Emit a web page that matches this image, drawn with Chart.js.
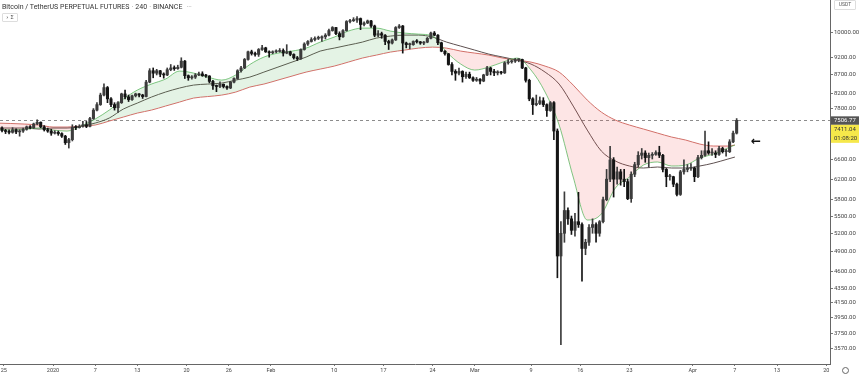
<!DOCTYPE html>
<html>
<head>
<meta charset="utf-8">
<script src="https://cdn.jsdelivr.net/npm/chart.js@4.4.1/dist/chart.umd.min.js"></script>
<style>
  html, body { margin: 0; padding: 0; background: #fff; }
  #wrap { position: relative; width: 860px; height: 375px; font-family: Roboto, "Liberation Sans", sans-serif; }
  #header { position: absolute; left: 2px; top: 3px; font-size: 7px; color: #333; white-space: nowrap; }
  #header .sep { color: #999; margin: 0 2px; }
  #header .more { color: #aaa; margin-left: 4px; }
  #toggle { position: absolute; left: 2px; top: 13px; width: 14px; height: 7px; border: 1px solid #ddd; border-radius: 1px; font-family: "DejaVu Sans"; font-size: 5.5px; line-height: 7px; text-align: center; color: #555; }
  #unit { position: absolute; left: 834px; top: 0px; width: 20px; height: 8px; border: 1px solid #ddd; border-radius: 1px; font-size: 5px; line-height: 6px; text-align: center; color: #555; }
  #gear { position: absolute; left: 842px; top: 367px; width: 5px; height: 5px; border: 1px solid #666; border-radius: 50%; }
</style>
</head>
<body>
<div id="wrap">
  <canvas id="chart"></canvas>
  <div id="header">Bitcoin / TetherUS PERPETUAL FUTURES<span class="sep">·</span>240<span class="sep">·</span>BINANCE<span class="more">···</span></div>
  <div id="toggle">› Σ</div>
  <div id="unit">USDT</div>
  <div id="gear"></div>
</div>
<script>
// 12h candles, first one opens Dec 24 2019 (days counted from Jan 1 2020)
const firstDay = -8;
const candleStep = 0.5;

const open = [
  7330, 7320, 7260, 7240, 7220, 7280, 7230, 7250, 7290, 7350, 7330, 7420, 7460, 7350, 7280, 7250,
  7200, 7220, 7190, 7130, 6980, 7050, 7340, 7330, 7360, 7400, 7360, 7550, 7760, 7900, 8150, 8350,
  8050, 7900, 7820, 7950, 8180, 8100, 8030, 8130, 8180, 8150, 8110, 8500, 8820, 8750, 8820, 8720,
  8700, 8850, 8900, 8880, 8920, 9100, 8680, 8620, 8640, 8700, 8730, 8680, 8670, 8520, 8400, 8380,
  8440, 8380, 8340, 8500, 8600, 8820, 8900, 9150, 9380, 9330, 9300, 9450, 9500, 9380, 9350, 9380,
  9390, 9420, 9340, 9380, 9300, 9200, 9170, 9450, 9620, 9700, 9760, 9800, 9810, 9850, 9900, 10050,
  10150, 9950, 9850, 10050, 10350, 10380, 10400, 10450, 10250, 10300, 10370, 10200, 9900, 9950, 9900, 9700,
  9650, 9750, 10150, 10200, 9650, 9600, 9600, 9700, 9690, 9650, 9680, 9800, 9970, 9900, 9660, 9400,
  9320, 9000, 8800, 8750, 8800, 8650, 8720, 8620, 8550, 8580, 8530, 8700, 8900, 8800, 8760, 8780,
  8760, 9050, 9080, 9100, 9140, 9150, 8900, 8550, 8050, 7900, 7930, 8000, 7900, 7750, 7950, 7250,
  4830, 5200, 5600, 5450, 5250, 5400, 5350, 4950, 5050, 5300, 5350, 5200, 5400, 5800, 6200, 6600,
  6200, 6350, 6200, 6150, 5820, 6300, 6500, 6700, 6750, 6650, 6700, 6720, 6760, 6700, 6400, 6250,
  6250, 6100, 5900, 6350, 6400, 6420, 6430, 6250, 6650, 6700, 6800, 6750, 6750, 6720, 6850, 6780,
  6780, 7000, 7200
];
const high = [
  7420, 7350, 7290, 7280, 7330, 7300, 7280, 7320, 7370, 7380, 7440, 7520, 7470, 7380, 7320, 7290,
  7260, 7250, 7210, 7150, 7080, 7400, 7380, 7400, 7480, 7480, 7580, 7800, 7950, 8200, 8450, 8380,
  8080, 7950, 7980, 8200, 8280, 8150, 8150, 8200, 8190, 8170, 8550, 8880, 8900, 8860, 8830, 8760,
  8900, 9000, 8960, 8980, 9200, 9120, 8700, 8680, 8740, 8780, 8790, 8720, 8680, 8550, 8420, 8510,
  8450, 8400, 8520, 8620, 8850, 8950, 9180, 9400, 9430, 9370, 9480, 9580, 9520, 9410, 9410, 9440,
  9480, 9470, 9600, 9400, 9320, 9240, 9470, 9660, 9730, 9820, 9850, 9870, 9880, 9950, 10100, 10180,
  10160, 10010, 10080, 10380, 10420, 10480, 10520, 10470, 10340, 10400, 10390, 10230, 10050, 10000, 9920, 9740,
  9780, 10180, 10250, 10220, 9680, 9650, 9720, 9760, 9700, 9700, 9830, 10000, 10020, 9920, 9680, 9420,
  9330, 9060, 8850, 8900, 8820, 8780, 8780, 8650, 8630, 8600, 8720, 8950, 8920, 8860, 8820, 8800,
  9080, 9150, 9130, 9180, 9170, 9160, 8920, 8580, 8080, 8150, 8100, 8080, 7920, 7980, 7980, 7300,
  5400, 5950, 5650, 5500, 5550, 5940, 5380, 5100, 5350, 5450, 5380, 5420, 5850, 6400, 6900, 6650,
  6450, 6400, 6400, 6200, 6350, 6550, 6780, 6850, 6800, 6750, 6760, 6800, 6900, 6720, 6420, 6300,
  6260, 6120, 6380, 6600, 6500, 6520, 6450, 6700, 6800, 7250, 7000, 6850, 6800, 6900, 6880, 6830,
  7050, 7250, 7550
];
const low = [
  7280, 7230, 7190, 7180, 7200, 7190, 7130, 7220, 7270, 7300, 7310, 7400, 7330, 7250, 7220, 7150,
  7180, 7150, 7100, 6940, 6860, 7020, 7280, 7320, 7340, 7330, 7350, 7530, 7740, 7880, 8130, 7950,
  7850, 7760, 7700, 7930, 8050, 7980, 8010, 8100, 8100, 8060, 8100, 8480, 8620, 8700, 8650, 8610,
  8680, 8820, 8830, 8860, 8900, 8600, 8550, 8580, 8600, 8680, 8660, 8630, 8480, 8300, 8240, 8350,
  8340, 8300, 8320, 8480, 8580, 8780, 8880, 9130, 9280, 9250, 9240, 9420, 9360, 9220, 9320, 9350,
  9370, 9250, 9320, 9260, 9160, 9120, 9150, 9430, 9580, 9680, 9720, 9760, 9700, 9780, 9880, 10030,
  9920, 9750, 9830, 10030, 10300, 10350, 10320, 10080, 10200, 10280, 10150, 9850, 9850, 9800, 9600, 9450,
  9620, 9730, 10120, 9340, 9500, 9470, 9580, 9650, 9610, 9600, 9660, 9780, 9880, 9600, 9380, 9280,
  8980, 8700, 8550, 8700, 8500, 8600, 8600, 8520, 8520, 8450, 8510, 8680, 8700, 8680, 8700, 8720,
  8740, 9010, 9040, 9060, 9080, 8880, 8500, 8000, 7650, 7870, 7900, 7850, 7600, 7730, 7050, 4500,
  3620, 5050, 5350, 5180, 5150, 5300, 4450, 4850, 5000, 5200, 5050, 5150, 5380, 5780, 6150, 5850,
  6100, 6080, 6050, 5800, 5750, 6250, 6450, 6620, 6550, 6450, 6620, 6700, 6650, 6350, 6050, 6180,
  6050, 5870, 5880, 6300, 6350, 6380, 6150, 6230, 6620, 6680, 6720, 6700, 6650, 6700, 6750, 6680,
  6760, 6980, 7180
];
const close = [
  7320, 7260, 7240, 7220, 7280, 7230, 7250, 7290, 7350, 7330, 7420, 7460, 7350, 7280, 7250, 7200,
  7220, 7190, 7130, 6980, 7050, 7340, 7330, 7360, 7400, 7360, 7550, 7760, 7900, 8150, 8350, 8050,
  7900, 7820, 7950, 8180, 8100, 8030, 8130, 8180, 8150, 8110, 8500, 8820, 8750, 8820, 8720, 8700,
  8850, 8900, 8880, 8920, 9100, 8680, 8620, 8640, 8700, 8730, 8680, 8670, 8520, 8400, 8380, 8440,
  8380, 8340, 8500, 8600, 8820, 8900, 9150, 9380, 9330, 9300, 9450, 9500, 9380, 9350, 9380, 9390,
  9420, 9340, 9380, 9300, 9200, 9170, 9450, 9620, 9700, 9760, 9800, 9810, 9850, 9900, 10050, 10150,
  9950, 9850, 10050, 10350, 10380, 10400, 10450, 10250, 10300, 10370, 10200, 9900, 9950, 9900, 9700, 9650,
  9750, 10150, 10200, 9650, 9600, 9600, 9700, 9690, 9650, 9680, 9800, 9970, 9900, 9660, 9400, 9320,
  9000, 8800, 8750, 8800, 8650, 8720, 8620, 8550, 8580, 8530, 8700, 8900, 8800, 8760, 8780, 8760,
  9050, 9080, 9100, 9140, 9150, 8900, 8550, 8050, 7900, 7930, 8000, 7900, 7750, 7950, 7250, 4830,
  5200, 5600, 5450, 5250, 5400, 5350, 4950, 5050, 5300, 5350, 5200, 5400, 5800, 6200, 6600, 6200,
  6350, 6200, 6150, 5820, 6300, 6500, 6700, 6750, 6650, 6700, 6720, 6760, 6700, 6400, 6250, 6250,
  6100, 5900, 6350, 6400, 6420, 6430, 6250, 6650, 6700, 6800, 6750, 6750, 6720, 6850, 6780, 6780,
  7000, 7200, 7506.77
];

const maDays = [
  -8, -6, -4, -2, 0, 2, 4, 6, 8, 10, 12, 14, 16, 18, 20, 22, 24, 26, 28, 30, 32, 34, 36, 38, 40, 42, 44,
  46, 48, 50, 52, 54, 56, 58, 60, 62, 64, 66, 68, 70, 72, 74, 76, 78, 80, 82, 84, 86, 88, 90, 92, 94, 96, 97
];
const maFast = [
  7297, 7273, 7297, 7321, 7273, 7249, 7369, 7538, 7761, 8044, 8283, 8446, 8584, 8810, 8753, 8640, 8556, 8700, 9000, 9220, 9341, 9401, 9493, 9680, 9839, 10033, 10131,
  10131, 10033, 9968, 9935, 9871, 9371, 9013, 8839, 8925, 9071, 9190, 8839, 8229, 7393, 6243, 5429, 5536, 6024, 6243, 6492, 6556, 6471, 6492, 6641, 6728, 6861, 6927
];
const maMid = [
  7321, 7321, 7321, 7297, 7321, 7321, 7369, 7440, 7563, 7787, 7940, 8096, 8229, 8337, 8418, 8446, 8473, 8556, 8640, 8781, 8925, 9071, 9220, 9401, 9493, 9586, 9680,
  9807, 9871, 9903, 9903, 9839, 9680, 9555, 9432, 9310, 9220, 9130, 9013, 8781, 8446, 7863, 7273, 6794, 6577, 6471, 6429, 6450, 6429, 6429, 6471, 6534, 6619, 6662
];
const maSlow = [
  7440, 7430, 7416, 7393, 7345, 7345, 7369, 7393, 7489, 7587, 7686, 7761, 7863, 7966, 8070, 8110, 8149, 8229, 8364, 8446, 8556, 8668, 8781, 8867, 8954, 9071, 9190,
  9280, 9371, 9432, 9493, 9524, 9493, 9401, 9341, 9280, 9190, 9130, 9071, 8954, 8781, 8418, 8018, 7711, 7513, 7393, 7297, 7202, 7110, 7041, 6950, 6905, 6905, 6927
];

// axis ticks
const xTickDays = [-7, 0, 6, 12, 19, 25, 31, 40, 47, 54, 60, 68, 75, 82, 91, 97, 103, 110];
const xTickLabels = ['25', '2020', '7', '13', '20', '26', 'Feb', '10', '17', '24', 'Mar', '9', '16', '23', 'Apr', '7', '13', '20'];
const yTicks = [10000, 9200, 8700, 8200, 7800, 6600, 6200, 5800, 5500, 5200, 4900, 4600, 4350, 4150, 3950, 3750, 3570];

const lastPrice = close[close.length - 1];
const markPrice = 7411.04;
const countdown = '01:08:20';
const arrowAt = [100, 7000];

const upColor = '#3c3c3c';
const downColor = '#141414';

const candleX = close.map((c, i) => firstDay + i * candleStep + candleStep / 2);
const candleColors = close.map((c, i) => (c >= open[i] ? upColor : downColor));
const maPoints = (arr) => maDays.map((d, i) => ({ x: d, y: arr[i] }));

const overlay = {
  id: 'overlay',
  beforeDatasetsDraw(chart) {
    const { ctx, chartArea: a, scales: { y } } = chart;
    const py = Math.round(y.getPixelForValue(lastPrice)) + 0.5;
    ctx.save();
    ctx.strokeStyle = '#8c8c8c';
    ctx.lineWidth = 1;
    ctx.setLineDash([3, 3]);
    ctx.beginPath();
    ctx.moveTo(a.left, py);
    ctx.lineTo(a.right, py);
    ctx.stroke();
    ctx.restore();
  },
  afterDraw(chart) {
    const { ctx, chartArea: a, scales: { x, y } } = chart;
    const py = y.getPixelForValue(lastPrice);
    ctx.save();
    ctx.font = '6px Roboto';
    ctx.textBaseline = 'middle';
    ctx.fillStyle = '#555';
    ctx.fillRect(a.right + 1, py - 4, 28, 8.5);
    ctx.fillStyle = '#fff';
    ctx.fillText(lastPrice.toFixed(2), a.right + 4, py);
    ctx.fillStyle = '#f6e84a';
    ctx.fillRect(a.right + 1, py + 4.5, 28, 18);
    ctx.fillStyle = '#333';
    ctx.fillText(markPrice.toFixed(2), a.right + 4, py + 9);
    ctx.fillText(countdown, a.right + 4, py + 18);
    ctx.font = 'bold 12px "DejaVu Sans"';
    ctx.fillStyle = '#111';
    ctx.textAlign = 'center';
    ctx.fillText('←', x.getPixelForValue(arrowAt[0]), y.getPixelForValue(arrowAt[1]));
    ctx.restore();
  },
};

const chart = new Chart(document.getElementById('chart'), {
  type: 'bar',
  data: {
    datasets: [
      {
        label: 'wick',
        data: candleX.map((x, i) => ({ x, y: [low[i], high[i]] })),
        backgroundColor: candleColors,
        barThickness: 1,
        grouped: false,
        order: 1,
      },
      {
        label: 'body',
        data: candleX.map((x, i) => ({ x, y: [open[i], close[i]] })),
        backgroundColor: candleColors,
        barThickness: 2.4,
        minBarLength: 1,
        grouped: false,
        order: 0,
      },
      {
        type: 'line',
        label: 'fast',
        data: maPoints(maFast),
        borderColor: 'rgba(76,175,80,0.7)',
        borderWidth: 1,
        pointRadius: 0,
        cubicInterpolationMode: 'monotone',
        fill: { target: 4, above: 'rgba(76,175,80,0.15)', below: 'rgba(239,83,80,0.15)' },
        order: 2,
      },
      {
        type: 'line',
        label: 'mid',
        data: maPoints(maMid),
        borderColor: '#5e5050',
        borderWidth: 1,
        pointRadius: 0,
        cubicInterpolationMode: 'monotone',
        fill: false,
        order: 2,
      },
      {
        type: 'line',
        label: 'slow',
        data: maPoints(maSlow),
        borderColor: '#d4716c',
        borderWidth: 1,
        pointRadius: 0,
        cubicInterpolationMode: 'monotone',
        fill: false,
        order: 2,
      },
    ],
  },
  options: {
    responsive: true,
    maintainAspectRatio: false,
    animation: false,
    layout: { padding: 0 },
    plugins: {
      legend: { display: false },
      tooltip: { enabled: false },
    },
    scales: {
      x: {
        type: 'linear',
        offset: false,
        min: -7.54,
        max: 110.53,
        afterFit: (s) => { s.height = 11; s.paddingLeft = 0; s.paddingRight = 0; },
        afterBuildTicks: (s) => { s.ticks = xTickDays.map((v) => ({ value: v })); },
        grid: { drawOnChartArea: false, tickLength: 2, color: '#777', offset: false },
        border: { color: '#666' },
        ticks: {
          autoSkip: false,
          maxRotation: 0,
          padding: 1,
          color: '#444',
          font: { size: 5.5, family: 'Roboto' },
          callback: (v) => xTickLabels[xTickDays.indexOf(v)],
        },
      },
      y: {
        type: 'logarithmic',
        position: 'right',
        min: 3400,
        max: 11100,
        afterFit: (s) => { s.width = 30; s.paddingTop = 0; s.paddingBottom = 0; },
        afterBuildTicks: (s) => { s.ticks = yTicks.map((v) => ({ value: v })); },
        grid: { drawOnChartArea: false, tickLength: 3, color: '#777' },
        border: { color: '#666' },
        ticks: {
          autoSkip: false,
          padding: 1,
          color: '#444',
          font: { size: 6, family: 'Roboto' },
          callback: (v) => Number(v).toFixed(2),
        },
      },
    },
  },
  plugins: [overlay],
});
</script>
</body>
</html>
